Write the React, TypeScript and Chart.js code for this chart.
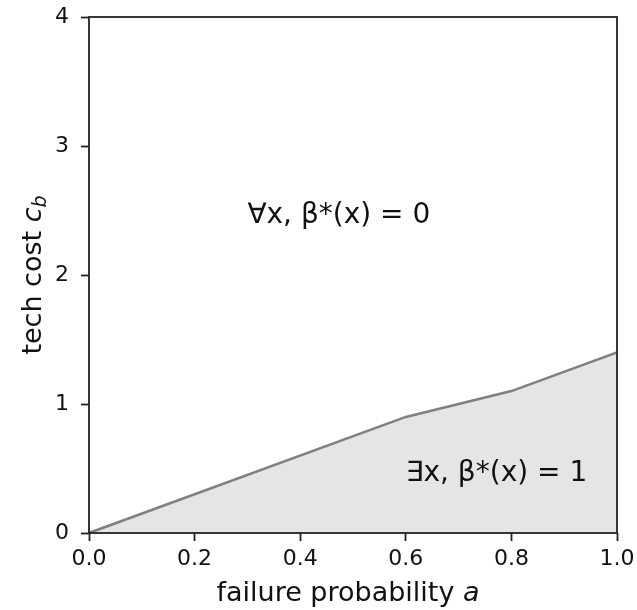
import React, { useEffect, useRef } from "react";
import { Chart, registerables } from "chart.js";

Chart.register(...registerables);

const failureProb = [0, 0.6, 0.8, 1.0];
const techCost = [0, 0.9, 1.1, 1.4];
const xTicks = [0, 0.2, 0.4, 0.6, 0.8, 1.0];
const yTicks = [0, 1, 2, 3, 4];
const regionLabels = [
  { x: 0.3, y: 2.4, text: "\u2200x, \u03b2*(x) = 0" },
  { x: 0.6, y: 0.4, text: "\u2203x, \u03b2*(x) = 1" },
];

const FONT = "DejaVu Sans";
const INK = "#222222";

const overlayPlugin = {
  id: "overlay",
  afterDatasetsDraw(chart: any) {
    const { ctx, chartArea } = chart;
    const xs = chart.scales.x;
    const ys = chart.scales.y;
    ctx.save();
    // region texts
    ctx.fillStyle = "#111111";
    ctx.font = `28px '${FONT}'`;
    ctx.textAlign = "left";
    ctx.textBaseline = "alphabetic";
    for (const r of regionLabels) {
      ctx.fillText(r.text, xs.getPixelForValue(r.x), ys.getPixelForValue(r.y));
    }
    // frame
    ctx.strokeStyle = INK;
    ctx.lineWidth = 1.8;
    ctx.strokeRect(
      chartArea.left,
      chartArea.top,
      chartArea.right - chartArea.left,
      chartArea.bottom - chartArea.top
    );
    // x title: "failure probability a"
    const part1 = "failure probability ";
    ctx.font = `27px '${FONT}'`;
    const w1 = ctx.measureText(part1).width;
    ctx.font = `italic 27px '${FONT}'`;
    const w2 = ctx.measureText("a").width;
    const cx = (chartArea.left + chartArea.right) / 2 - 5;
    const sx = cx - (w1 + w2) / 2;
    const by = 601;
    ctx.fillStyle = "#111111";
    ctx.font = `27px '${FONT}'`;
    ctx.fillText(part1, sx, by);
    ctx.font = `italic 27px '${FONT}'`;
    ctx.fillText("a", sx + w1, by);
    // y title: "tech cost c_b"
    ctx.translate(41, (chartArea.top + chartArea.bottom) / 2);
    ctx.rotate(-Math.PI / 2);
    const p1 = "tech cost ";
    ctx.font = `27px '${FONT}'`;
    const a1 = ctx.measureText(p1).width;
    ctx.font = `italic 27px '${FONT}'`;
    const a2 = ctx.measureText("c").width;
    ctx.font = `italic 19px '${FONT}'`;
    const a3 = ctx.measureText("b").width;
    const total = a1 + a2 + a3;
    const tx = -total / 2;
    ctx.font = `27px '${FONT}'`;
    ctx.fillText(p1, tx, 0);
    ctx.font = `italic 27px '${FONT}'`;
    ctx.fillText("c", tx + a1, 0);
    ctx.font = `italic 19px '${FONT}'`;
    ctx.fillText("b", tx + a1 + a2, 5);
    ctx.restore();
  },
};

export default function App() {
  const ref = useRef<HTMLCanvasElement | null>(null);
  useEffect(() => {
    if (!ref.current) return;
    Chart.defaults.font.family = FONT;
    const chart = new Chart(ref.current, {
      type: "line",
      data: {
        datasets: [
          {
            data: failureProb.map((x, i) => ({ x, y: techCost[i] })),
            borderColor: "#808080",
            borderWidth: 2.6,
            backgroundColor: "#e5e5e5",
            fill: "origin",
            pointRadius: 0,
            tension: 0,
          },
        ],
      },
      options: {
        animation: false,
        responsive: true,
        maintainAspectRatio: false,
        layout: { padding: { left: 0, top: 17, right: 20, bottom: 0 } },
        plugins: { legend: { display: false }, tooltip: { enabled: false } },
        scales: {
          x: {
            type: "linear",
            min: 0,
            max: 1,
            afterFit(scale: any) {
              scale.height = 77;
              scale.paddingLeft = 0;
              scale.paddingRight = 0;
            },
            afterBuildTicks(scale: any) {
              scale.ticks = xTicks.map((v) => ({ value: v }));
            },
            border: { display: false },
            grid: {
              drawOnChartArea: false,
              drawTicks: true,
              tickLength: 8,
              tickColor: INK,
              tickWidth: 1.8,
            },
            ticks: {
              color: "#111111",
              font: { size: 22, family: FONT },
              padding: 5,
              maxRotation: 0,
              callback: (v: any) => Number(v).toFixed(1),
            },
          },
          y: {
            type: "linear",
            min: 0,
            max: 4,
            afterFit(scale: any) {
              scale.width = 89;
              scale.paddingTop = 0;
              scale.paddingBottom = 0;
            },
            afterBuildTicks(scale: any) {
              scale.ticks = yTicks.map((v) => ({ value: v }));
            },
            border: { display: false },
            grid: {
              drawOnChartArea: false,
              drawTicks: true,
              tickLength: 8,
              tickColor: INK,
              tickWidth: 1.8,
            },
            ticks: {
              color: "#111111",
              font: { size: 22, family: FONT },
              padding: 12,
              callback: (v: any) => String(v),
            },
          },
        },
      },
      plugins: [overlayPlugin],
    });
    return () => chart.destroy();
  }, []);
  return (
    <div
      style={{
        position: "fixed",
        left: 0,
        top: 0,
        width: 637,
        height: 610,
        background: "#ffffff",
      }}
    >
      <canvas ref={ref} />
    </div>
  );
}
